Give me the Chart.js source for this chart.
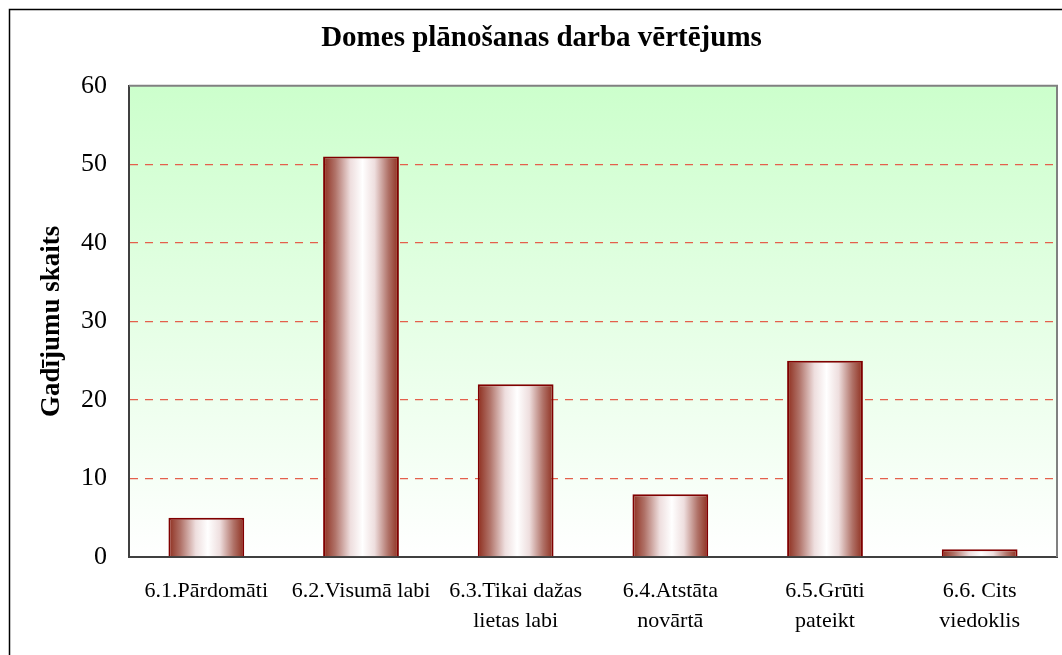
<!DOCTYPE html>
<html>
<head>
<meta charset="utf-8">
<script src="https://cdn.jsdelivr.net/npm/chart.js@4"></script>
<style>
  html, body { margin: 0; padding: 0; background: #ffffff; }
  #wrap { width: 1062px; height: 655px; }
</style>
</head>
<body>
<div id="wrap"><canvas id="chart" width="1062" height="655"></canvas></div>
<script>
const categories = [
  '6.1.Pārdomāti',
  '6.2.Visumā labi',
  ['6.3.Tikai dažas', 'lietas labi'],
  ['6.4.Atstāta', 'novārtā'],
  ['6.5.Grūti', 'pateikt'],
  ['6.6. Cits', 'viedoklis']
];
const counts = [5, 51, 22, 8, 25, 1];
const yTicks = [0, 10, 20, 30, 40, 50, 60];

const FONT = "'Liberation Serif', 'Times New Roman', serif";
const BAR_PCT = 0.49;

// horizontal "cylinder" gradient for every bar
function barGradient(ctx) {
  const chart = ctx.chart;
  const x = chart.scales.x;
  if (!x || !chart.chartArea) return '#c08080';
  const cx = x.getPixelForValue(ctx.dataIndex);
  const half = (x.width / categories.length) * BAR_PCT / 2;
  const g = chart.ctx.createLinearGradient(cx - half, 0, cx + half, 0);
  g.addColorStop(0, '#8e2e1e');
  g.addColorStop(0.16, '#b07268');
  g.addColorStop(0.36, '#eedede');
  g.addColorStop(0.52, '#ffffff');
  g.addColorStop(0.68, '#eedede');
  g.addColorStop(0.86, '#b07268');
  g.addColorStop(1, '#8e2e1e');
  return g;
}

// plot background, plot frame and outer frame
const frames = {
  id: 'frames',
  beforeDraw(chart) {
    const { ctx, chartArea: a } = chart;
    ctx.save();
    const g = ctx.createLinearGradient(0, a.top, 0, a.bottom);
    g.addColorStop(0, '#ccffcc');
    g.addColorStop(1, '#ffffff');
    ctx.fillStyle = g;
    ctx.fillRect(a.left, a.top, a.right - a.left, a.bottom - a.top);
    ctx.strokeStyle = '#000000';
    ctx.lineWidth = 1.5;
    ctx.strokeRect(9.5, 9.5, 1100, 700);
    ctx.restore();
  },
  afterDraw(chart) {
    const { ctx, chartArea: a } = chart;
    ctx.save();
    ctx.strokeStyle = '#808080';
    ctx.lineWidth = 2;
    ctx.beginPath();
    ctx.moveTo(a.left, a.top);
    ctx.lineTo(a.right, a.top);
    ctx.lineTo(a.right, a.bottom);
    ctx.stroke();
    ctx.restore();
  }
};

new Chart(document.getElementById('chart'), {
  type: 'bar',
  data: {
    labels: categories,
    datasets: [{
      data: counts,
      backgroundColor: barGradient,
      borderColor: '#800000',
      borderWidth: 2,
      categoryPercentage: 1,
      barPercentage: BAR_PCT
    }]
  },
  plugins: [frames],
  options: {
    responsive: false,
    animation: false,
    layout: { padding: { left: 26, right: 5, top: 0, bottom: 0 } },
    plugins: {
      legend: { display: false },
      tooltip: { enabled: false },
      title: {
        display: true,
        text: 'Domes plānošanas darba vērtējums',
        color: '#000000',
        font: { family: FONT, size: 29, weight: 'bold' },
        padding: { top: 21, bottom: 30 }
      }
    },
    scales: {
      x: {
        grid: { display: false, drawTicks: false },
        border: { color: '#404040', width: 2 },
        ticks: {
          color: '#000000',
          font: { family: FONT, size: 22, lineHeight: 1.36 },
          padding: 19,
          maxRotation: 0,
          autoSkip: false
        },
        afterFit(scale) { scale.height = 98; }
      },
      y: {
        min: 0,
        max: 60,
        afterBuildTicks(scale) { scale.ticks = yTicks.map(v => ({ value: v })); },
        grid: {
          drawTicks: false,
          color: c => (c.tick.value === 0 || c.tick.value === 60) ? 'rgba(0,0,0,0)' : '#e4604c',
          lineWidth: 1.3
        },
        border: { color: '#404040', width: 2, dash: [8, 7] },
        ticks: {
          color: '#000000',
          font: { family: FONT, size: 26 },
          padding: 22
        },
        title: {
          display: true,
          text: 'Gadījumu skaits',
          color: '#000000',
          font: { family: FONT, size: 27, weight: 'bold' },
          padding: { top: 10, bottom: 0 }
        },
        afterFit(scale) { scale.width = 103; }
      }
    }
  }
});
</script>
</body>
</html>
